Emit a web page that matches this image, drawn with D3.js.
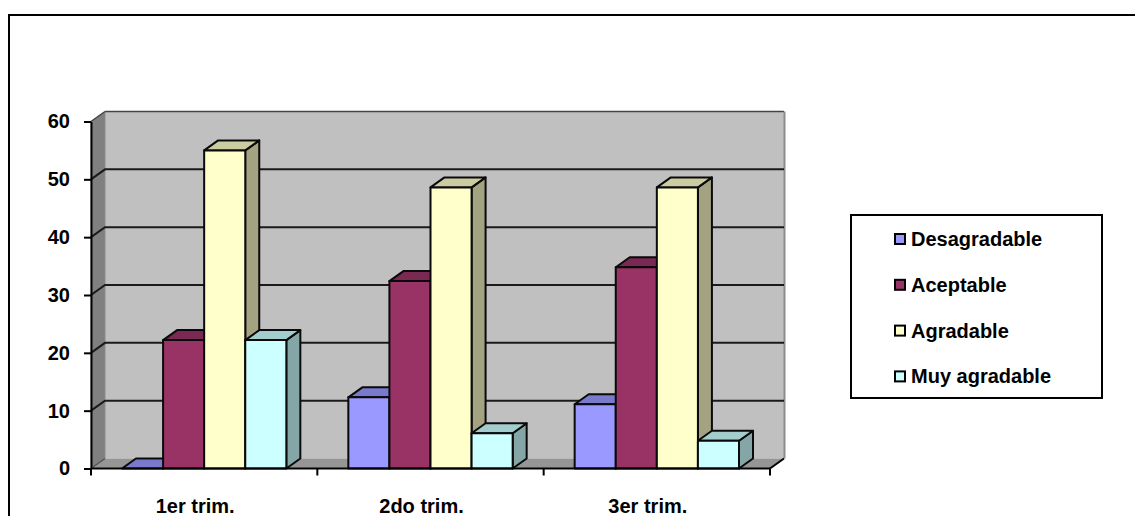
<!DOCTYPE html>
<html>
<head>
<meta charset="utf-8">
<script src="https://cdn.jsdelivr.net/npm/d3@7"></script>
<style>
  html, body { margin: 0; padding: 0; background: #fff; overflow: hidden; }
  svg { display: block; }
  text { font-family: "Liberation Sans", Arial, sans-serif; font-weight: bold; fill: #000; }
</style>
</head>
<body>
<svg id="chart" width="1135" height="516"></svg>
<script>
// Chart data
const categories = ["1er trim.", "2do trim.", "3er trim."];
const seriesNames = ["Desagradable", "Aceptable", "Agradable", "Muy agradable"];
const desagradable = [0, 12.3, 11.1];
const aceptable = [22.2, 32.4, 34.8];
const agradable = [55, 48.6, 48.6];
const muyAgradable = [22.2, 6.1, 4.8];
const seriesValues = [desagradable, aceptable, agradable, muyAgradable];
const yTicks = [0, 10, 20, 30, 40, 50, 60];

// Face fills per series: front, top, side
const frontColors = ["#9999FF", "#993366", "#FFFFCC", "#CCFFFF"];
const topColors = ["#7A7ACC", "#7A2952", "#CCCCA3", "#A3CCCC"];
const sideColors = ["#6B6BB3", "#6B2447", "#A3A382", "#85A6A6"];

const svg = d3.select("#chart");

// Oblique projection offset of the 3D box
const depthX = 14, depthY = 10;
const x = d3.scaleBand().domain(categories).range([91, 770]);
const y = d3.scaleLinear().domain([0, 60]).range([468.5, 121.5]);
const inner = d3.scaleBand().domain(d3.range(4)).range([31, x.bandwidth() - 31]);

const poly = pts => pts.map(p => p.join(",")).join(" ");
const x0 = x.range()[0], x1 = x.range()[1];
const yBase = y(0), yTop = y(60);

// Outer chart frame (open on the right and bottom)
svg.append("path")
  .attr("d", d3.line()([[1135, 15], [9, 15], [9, 516]]))
  .attr("fill", "none").attr("stroke", "#000").attr("stroke-width", 2);

// Back wall
svg.append("rect")
  .attr("x", x0 + depthX).attr("y", yTop - depthY)
  .attr("width", x1 - x0).attr("height", yBase - yTop)
  .attr("fill", "#C0C0C0");
svg.append("path")
  .attr("d", d3.line()([[x0 + depthX, yTop - depthY], [x1 + depthX, yTop - depthY]]))
  .attr("stroke", "#444").attr("stroke-width", 1.5).attr("fill", "none");
svg.append("path")
  .attr("d", d3.line()([[x1 + depthX + 0.5, yTop - depthY], [x1 + depthX + 0.5, yBase - depthY]]))
  .attr("stroke", "#8c8c8c").attr("stroke-width", 2).attr("fill", "none");

// Side wall
svg.append("polygon")
  .attr("points", poly([[x0, yTop], [x0 + depthX, yTop - depthY], [x0 + depthX, yBase - depthY], [x0, yBase]]))
  .attr("fill", "#808080").attr("stroke", "#8c8c8c").attr("stroke-width", 1);

// Floor
svg.append("polygon")
  .attr("points", poly([[x0, yBase], [x0 + depthX, yBase - depthY], [x1 + depthX, yBase - depthY], [x1, yBase]]))
  .attr("fill", "#969696");

// Gridlines running along the back and side walls
svg.append("g").selectAll("path").data(yTicks.filter(d => d > 0 && d < 60)).join("path")
  .attr("d", d => d3.line()([[x0, y(d)], [x0 + depthX, y(d) - depthY], [x1 + depthX, y(d) - depthY]]))
  .attr("fill", "none").attr("stroke", "#1a1a1a").attr("stroke-width", 2);
svg.append("path")
  .attr("d", d3.line()([[x0, yTop], [x0 + depthX, yTop - depthY]]))
  .attr("fill", "none").attr("stroke", "#444").attr("stroke-width", 1.5);
svg.append("path")
  .attr("d", d3.line()([[x0, yBase], [x0 + depthX, yBase - depthY]]))
  .attr("fill", "none").attr("stroke", "#555").attr("stroke-width", 1.5);
svg.append("path")
  .attr("d", d3.line()([[x1, yBase], [x1 + depthX, yBase - depthY]]))
  .attr("fill", "none").attr("stroke", "#000").attr("stroke-width", 2);

// Bars: each one is a front, top and side face
const barData = categories.flatMap(c => seriesNames.map((s, i) => ({
  category: c, index: i, value: seriesValues[i][categories.indexOf(c)]
})));
const bars = svg.append("g").selectAll("g").data(barData).join("g")
  .attr("stroke", "#0a0a0a").attr("stroke-width", 2).attr("stroke-linejoin", "round");
const left = d => x(d.category) + inner(d.index);
const right = d => left(d) + inner.bandwidth();
bars.append("polygon").attr("fill", d => sideColors[d.index])
  .attr("points", d => poly([[right(d), y(d.value)], [right(d) + depthX, y(d.value) - depthY],
                             [right(d) + depthX, yBase - depthY], [right(d), yBase]]));
bars.append("polygon").attr("fill", d => topColors[d.index])
  .attr("points", d => poly([[left(d), y(d.value)], [left(d) + depthX, y(d.value) - depthY],
                             [right(d) + depthX, y(d.value) - depthY], [right(d), y(d.value)]]));
bars.append("rect").attr("fill", d => frontColors[d.index])
  .attr("x", left).attr("y", d => y(d.value))
  .attr("width", inner.bandwidth()).attr("height", d => yBase - y(d.value));

// Value axis
const yAxis = d3.axisLeft(y).tickValues(yTicks).tickSize(7).tickPadding(14).tickSizeOuter(0);
const gy = svg.append("g").attr("transform", `translate(${x0},0)`).call(yAxis);
gy.selectAll("path,line").attr("stroke", "#000").attr("stroke-width", 2);
gy.selectAll("text").attr("font-size", 20).attr("font-family", null).style("fill", "#000");

// Category axis: ticks on the group boundaries, labels centred in each group
const boundaries = [...categories.map(c => x(c)), x1];
const gx = svg.append("g");
gx.append("path").attr("d", d3.line()([[x0, yBase], [x1, yBase]]))
  .attr("stroke", "#000").attr("stroke-width", 2).attr("fill", "none");
gx.selectAll("line").data(boundaries).join("line")
  .attr("x1", d => d).attr("x2", d => d)
  .attr("y1", yBase).attr("y2", yBase + 7)
  .attr("stroke", "#000").attr("stroke-width", 2);
gx.selectAll("text").data(categories).join("text")
  .attr("x", d => x(d) + x.bandwidth() / 2 - 9)
  .attr("y", 513)
  .attr("text-anchor", "middle").attr("font-size", 20)
  .text(d => d);

// Legend
const legend = svg.append("g");
legend.append("rect").attr("x", 851).attr("y", 215).attr("width", 251).attr("height", 183)
  .attr("fill", "#fff").attr("stroke", "#000").attr("stroke-width", 2);
const rows = legend.selectAll("g").data(seriesNames).join("g")
  .attr("transform", (d, i) => `translate(0,${239 + i * 45.8})`);
rows.append("rect").attr("x", 895).attr("y", -5).attr("width", 10).attr("height", 10)
  .attr("fill", (d, i) => frontColors[i]).attr("stroke", "#000").attr("stroke-width", 2);
rows.append("text").attr("x", 911).attr("y", 7).attr("font-size", 20).text(d => d);
</script>
</body>
</html>
